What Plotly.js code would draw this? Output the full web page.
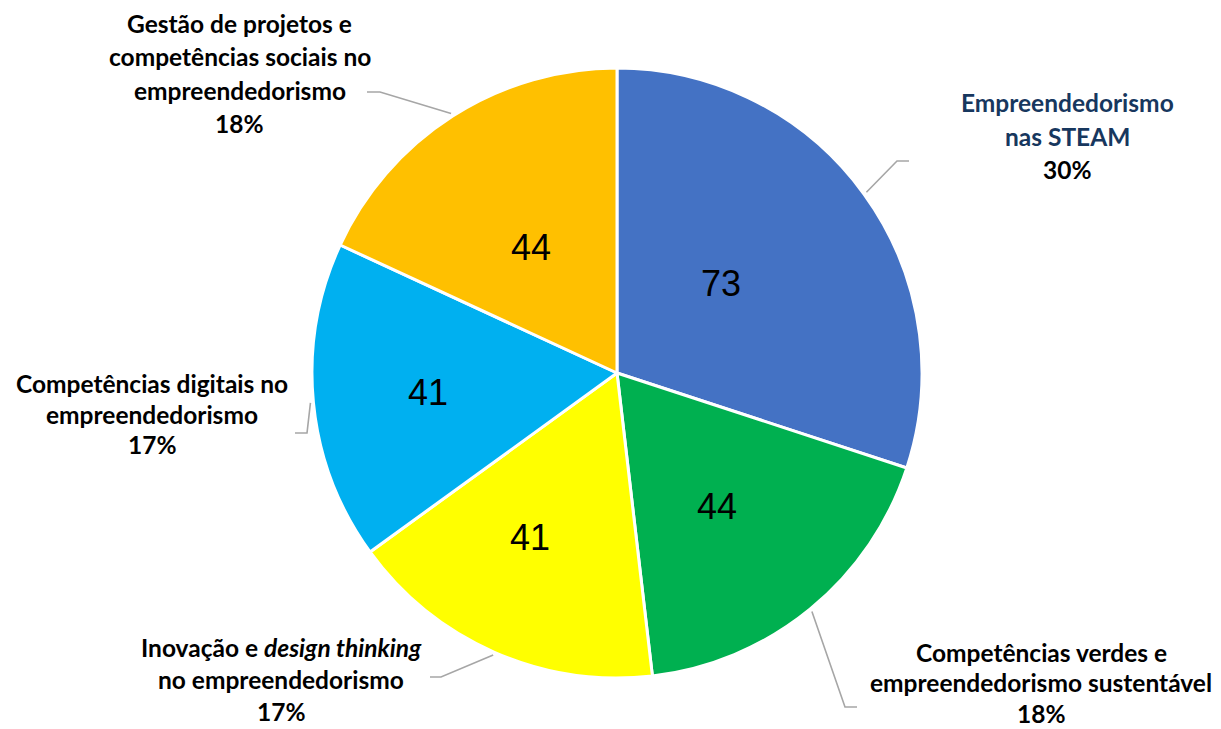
<!DOCTYPE html>
<html>
<head>
<meta charset="utf-8">
<script src="https://cdn.plot.ly/plotly-3.0.1.min.js"></script>
<style>
  html, body { margin: 0; padding: 0; background: #ffffff; }
  #chart { width: 1221px; height: 729px; }
</style>
</head>
<body>
<div id="chart"></div>
<script>
// ---- data ----
const categories = [
  "Empreendedorismo<br>nas STEAM",
  "Competências verdes e<br>empreendedorismo sustentável",
  "Inovação e <i>design thinking</i><br>no empreendedorismo",
  "Competências digitais no<br>empreendedorismo",
  "Gestão de projetos e<br>competências sociais no<br>empreendedorismo"
];
const values = [73, 44, 41, 41, 44];
const percentLabels = ["30%", "18%", "17%", "17%", "18%"];

// ---- style ----
const colors = ["#4472C4", "#00B050", "#FFFF00", "#00B0F0", "#FFC000"];
const W = 1221, H = 729;
const CX = 617, CY = 373, R = 305;
const labelFont = "Lato, 'Open Sans', sans-serif";
const labelSize = 24.5;
const labelColors = ["#17375E", "#000000", "#000000", "#000000", "#000000"];
// label block: center x, first-line center y, line gap (pixels)
const labelBlocks = [
  {x: 1067, y: 103, g: 33},
  {x: 1041, y: 652, g: 30.5},
  {x: 281, y: 647, g: 32},
  {x: 152, y: 383, g: 31},
  {x: 240, y: 24, g: 33}
];
// leader elbows & ends (pixels)
const leaders = [
  {ex: 897, ey: 161, tx: 909, ty: 161},
  {ex: 845, ey: 707, tx: 857, ty: 707},
  {ex: 441, ey: 677, tx: 430, ty: 677},
  {ex: 307, ey: 433, tx: 295, ty: 433},
  {ex: 380, ey: 92, tx: 367, ty: 92}
];
// inside value label placement: radius (px) and angle offset (deg) from slice middle
const insideR = [137, 167, 186, 190, 152];
const insideDA = [-4.6, 2.3, 4.3, -0.3, -1.9];

const px = x => x / W;
const py = y => 1 - y / H;

const total = values.reduce((a, b) => a + b, 0);
let cum = 0;
const midAngles = values.map(v => {
  const a = (cum + v / 2) / total * 2 * Math.PI;
  cum += v;
  return a;
});

const annotations = [];
categories.forEach((cat, i) => {
  const lines = cat.split("<br>").concat([percentLabels[i]]);
  const nCat = lines.length - 1;
  lines.forEach((ln, k) => {
    annotations.push({
      xref: "paper", yref: "paper",
      x: px(labelBlocks[i].x), y: py(labelBlocks[i].y + k * labelBlocks[i].g),
      xanchor: "center", yanchor: "middle",
      text: "<b>" + ln + "</b>",
      showarrow: false,
      font: {family: labelFont, size: labelSize, color: k < nCat ? labelColors[i] : "#000000"}
    });
  });
});

// value labels inside slices
values.forEach((v, i) => {
  const a = midAngles[i] + insideDA[i] * Math.PI / 180;
  annotations.push({
    xref: "paper", yref: "paper",
    x: px(CX + insideR[i] * Math.sin(a)), y: py(CY - insideR[i] * Math.cos(a)),
    xanchor: "center", yanchor: "middle",
    text: String(v),
    showarrow: false,
    font: {family: "Arial, 'Liberation Sans', sans-serif", size: 36, color: "#000000"}
  });
});

const shapes = midAngles.map((a, i) => {
  const sx = CX + (R + 3) * Math.sin(a);
  const sy = CY - (R + 3) * Math.cos(a);
  const L = leaders[i];
  return {
    type: "path", xref: "paper", yref: "paper",
    path: `M ${px(sx)} ${py(sy)} L ${px(L.ex)} ${py(L.ey)} L ${px(L.tx)} ${py(L.ty)}`,
    line: {color: "#A6A6A6", width: 1.6}
  };
});

const trace = {
  type: "pie",
  values: values,
  labels: categories,
  sort: false,
  direction: "clockwise",
  rotation: 0,
  marker: {colors: colors, line: {color: "#ffffff", width: 3}},
  textinfo: "none",
  domain: {x: [px(CX - R), px(CX + R)], y: [py(CY + R), py(CY - R)]},
  hoverinfo: "label+value+percent",
  showlegend: false
};

const layout = {
  width: W, height: H,
  margin: {l: 0, r: 0, t: 0, b: 0},
  paper_bgcolor: "#ffffff",
  plot_bgcolor: "#ffffff",
  showlegend: false,
  annotations: annotations,
  shapes: shapes
};

Plotly.newPlot("chart", [trace], layout, {displayModeBar: false, staticPlot: true});
</script>
</body>
</html>
